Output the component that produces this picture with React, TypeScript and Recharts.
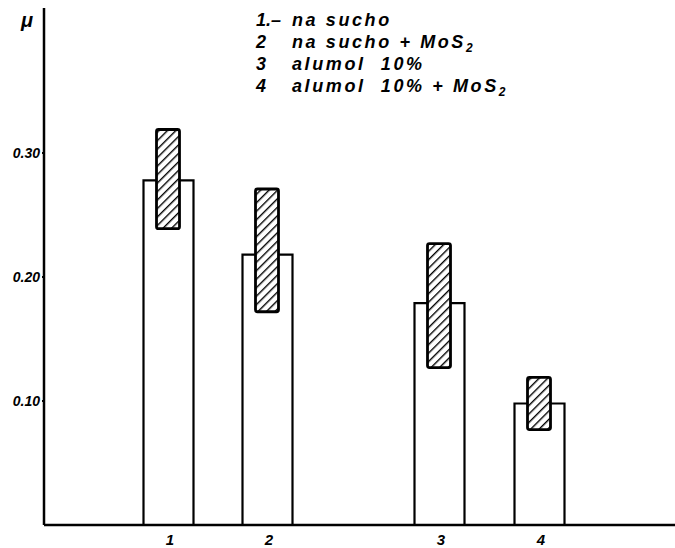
import { Bar, ComposedChart, XAxis, YAxis } from "recharts";

// bar positions along the x axis (px-like units from the y axis)
const positions = [124, 223, 395, 495];
const labels = ["1", "2", "3", "4"];
// friction coefficient, mean value
const meanMu = [0.278, 0.218, 0.179, 0.098];
// scatter range (min, max)
const rangeLow = [0.239, 0.172, 0.127, 0.077];
const rangeHigh = [0.319, 0.271, 0.227, 0.119];

const legendRows = [
  { num: "1.–", text: "na sucho", mos: false },
  { num: "2", text: "na sucho + MoS", mos: true },
  { num: "3", text: "alumol\u00a0\u00a010%", mos: false },
  { num: "4", text: "alumol\u00a0\u00a010% + MoS", mos: true },
];

const yTicks = [0.1, 0.2, 0.3];

const data = positions.map((x, i) => ({
  x,
  label: labels[i],
  mean: meanMu[i],
  range: [rangeLow[i], rangeHigh[i]],
}));

const FONT = "'Liberation Sans', 'DejaVu Sans', sans-serif";

const XTick = (props: any) => {
  const { x, y, payload } = props;
  const i = positions.indexOf(payload.value);
  return (
    <text
      x={x + 2}
      y={y + 12}
      textAnchor="middle"
      fontFamily={FONT}
      fontStyle="italic"
      fontWeight={700}
      fontSize={15}
      fill="#000"
    >
      {labels[i] ?? ""}
    </text>
  );
};

const YTick = (props: any) => {
  const { x, y, payload } = props;
  return (
    <text
      x={x}
      y={y + 5}
      textAnchor="end"
      fontFamily={FONT}
      fontStyle="italic"
      fontWeight={700}
      fontSize={14}
      fill="#000"
    >
      {Number(payload.value).toFixed(2)}
    </text>
  );
};

export default function App() {
  return (
    <div style={{ position: "fixed", left: 0, top: 0, width: 675, height: 548, background: "#fff" }}>
      <ComposedChart
        width={675}
        height={548}
        data={data}
        margin={{ top: 8, right: 0, left: 0, bottom: 0 }}
      >
        <defs>
          <pattern
            id="hatch"
            patternUnits="userSpaceOnUse"
            width={6}
            height={6}
            patternTransform="rotate(45)"
          >
            <rect width={6} height={6} fill="#fff" />
            <line x1={0} y1={0} x2={0} y2={6} stroke="#000" strokeWidth={2.8} />
          </pattern>
        </defs>
        <XAxis
          xAxisId="a"
          dataKey="x"
          type="number"
          domain={[0, 631]}
          ticks={positions}
          tick={<XTick />}
          tickLine={false}
          axisLine={{ stroke: "#000", strokeWidth: 2.5 }}
          height={23}
          interval={0}
        />
        <XAxis
          xAxisId="b"
          dataKey="x"
          type="number"
          domain={[0, 631]}
          hide
        />
        <YAxis
          type="number"
          domain={[0, 0.417]}
          ticks={yTicks}
          tick={<YTick />}
          tickSize={2}
          tickLine={{ stroke: "#000", strokeWidth: 2 }}
          axisLine={{ stroke: "#000", strokeWidth: 2.5 }}
          width={44}
          allowDataOverflow
        />
        <Bar
          xAxisId="a"
          dataKey="mean"
          barSize={50}
          fill="#fff"
          stroke="#000"
          strokeWidth={2.2}
          isAnimationActive={false}
        />
        <Bar
          xAxisId="b"
          dataKey="range"
          barSize={23}
          fill="url(#hatch)"
          stroke="#000"
          strokeWidth={2.8}
          radius={2}
          isAnimationActive={false}
        />
      </ComposedChart>
      <svg
        width={675}
        height={110}
        style={{ position: "absolute", left: 0, top: 0, pointerEvents: "none" }}
      >
        <text
          x={21}
          y={27}
          fontFamily={FONT}
          fontStyle="italic"
          fontWeight={700}
          fontSize={20}
          fill="#000"
        >
          μ
        </text>
        {legendRows.map((r, i) => (
          <g key={r.num}>
            <text
              x={256}
              y={26 + i * 22}
              fontFamily={FONT}
              fontStyle="italic"
              fontWeight={700}
              fontSize={18}
              fill="#000"
            >
              {r.num}
            </text>
            <text
              x={292}
              y={26 + i * 22}
              fontFamily={FONT}
              fontStyle="italic"
              fontWeight={700}
              fontSize={18}
              letterSpacing={2.6}
              fill="#000"
            >
              {r.text}
              {r.mos && (
                <tspan fontSize={12} dy={4}>
                  2
                </tspan>
              )}
            </text>
          </g>
        ))}
      </svg>
    </div>
  );
}
